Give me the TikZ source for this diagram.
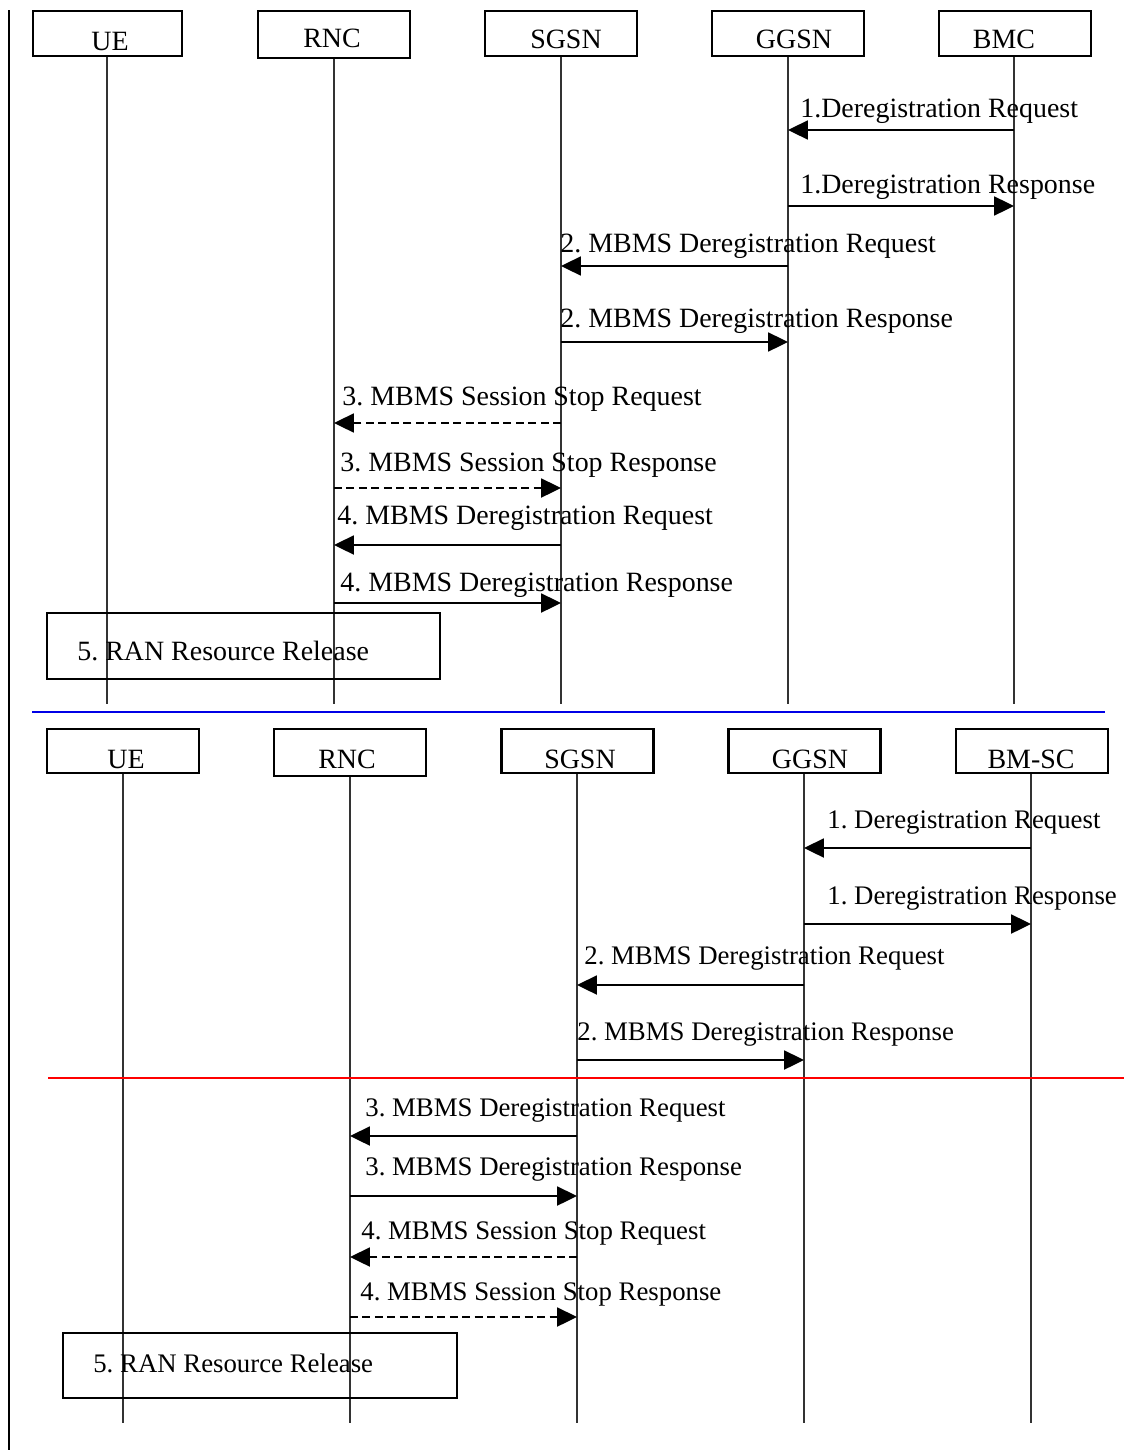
\documentclass[tikz,border=0pt]{standalone}
\usepackage{fontspec}
\setmainfont{Liberation Serif}
\usetikzlibrary{arrows.meta}
\frenchspacing
\def\px{0.02cm}
\tikzset{
  actor/.style={draw, line width=1.2pt, minimum width=152*\px, minimum height=45*\px, inner sep=0pt},
  lbl/.style={anchor=base, inner sep=0pt, font=\fontsize{15.9}{18}\selectfont},
  mlbl/.style={anchor=base west, inner sep=0pt, font=\fontsize{15.9}{18}\selectfont},
  mlblb/.style={anchor=base west, inner sep=0pt, font=\fontsize{15.25}{18}\selectfont},
  life/.style={line width=0.6pt, draw=black!80},
  msg/.style={line width=1.1pt, -{Triangle[length=11.3pt,width=10.8pt]}},
  dmsg/.style={msg, dash pattern=on 4.5pt off 2.6pt},
  ranbox/.style={draw, line width=1.2pt, inner sep=0pt},
}
\begin{document}
\begin{tikzpicture}[x=0.02cm, y=-0.02cm]
\useasboundingbox (0,0) rectangle (1124,1450);
% left frame line
\coordinate (fl1) at (9,10);
\coordinate (fl2) at (9,1450);
\draw[line width=1.2pt] (fl1) -- (fl2);

% ===== top section =====
\node[actor, minimum width=149*\px] (ue1) at (107.5,33.5) {};
\node[actor, minimum height=47*\px] (rnc1) at (334,34.5) {};
\node[actor] (sgsn1) at (561,33.5) {};
\node[actor] (ggsn1) at (788,33.5) {};
\node[actor] (bmc1) at (1015,33.5) {};
\node[lbl] (ue1t) at (110,51) {UE};
\node[lbl] (rnc1t) at (332,47) {RNC};
\node[lbl] (sgsn1t) at (566,48) {SGSN};
\node[lbl] (ggsn1t) at (794,49) {GGSN};
\node[lbl] (bmc1t) at (1004,49) {BMC};

\coordinate (ue1e) at (107,704);
\coordinate (rnc1e) at (334,704);
\coordinate (sgsn1e) at (561,704);
\coordinate (ggsn1e) at (788,704);
\coordinate (bmc1e) at (1014,704);
\draw[life] (ue1e |- ue1.south) -- (ue1e);
\draw[life] (rnc1e |- rnc1.south) -- (rnc1e);
\draw[life] (sgsn1e |- sgsn1.south) -- (sgsn1e);
\draw[life] (ggsn1e |- ggsn1.south) -- (ggsn1e);
\draw[life] (bmc1e |- bmc1.south) -- (bmc1e);

\node[mlbl] (t1) at (800,117) {1.Deregistration Request};
\draw[msg] (bmc1e |- 0,130) -- (ggsn1e |- 0,130);
\node[mlbl] (t2) at (800,193) {1.Deregistration Response};
\draw[msg] (ggsn1e |- 0,206) -- (bmc1e |- 0,206);
\node[mlbl] (t3) at (560,252) {2. MBMS Deregistration Request};
\draw[msg] (ggsn1e |- 0,266) -- (sgsn1e |- 0,266);
\node[mlbl] (t4) at (560,327) {2. MBMS Deregistration Response};
\draw[msg] (sgsn1e |- 0,342) -- (ggsn1e |- 0,342);
\node[mlbl] (t5) at (342,405) {3. MBMS Session Stop Request};
\draw[dmsg] (sgsn1e |- 0,423) -- (rnc1e |- 0,423);
\node[mlbl] (t6) at (340,471) {3. MBMS Session Stop Response};
\draw[dmsg] (rnc1e |- 0,488) -- (sgsn1e |- 0,488);
\node[mlbl] (t7) at (337,524) {4. MBMS Deregistration Request};
\draw[msg] (sgsn1e |- 0,545) -- (rnc1e |- 0,545);
\node[mlbl] (t8) at (340,591) {4. MBMS Deregistration Response};
\draw[msg] (rnc1e |- 0,603) -- (sgsn1e |- 0,603);

\coordinate (ran1a) at (47,613);
\coordinate (ran1b) at (440,679);
\draw[ranbox] (ran1a) rectangle (ran1b);
\node[mlbl] (ran1t) at (77,660) {5. RAN Resource Release};

% blue separator
\coordinate (bl1) at (32,712);
\coordinate (bl2) at (1105,712);
\draw[line width=1.1pt, draw={rgb,255:red,0;green,0;blue,230}] (bl1) -- (bl2);

% ===== bottom section =====
\node[actor, minimum height=44*\px] (ue2) at (123,751) {};
\node[actor, minimum height=47*\px] (rnc2) at (350,752.5) {};
\node[actor, minimum height=44*\px] (sgsn2) at (577.5,751) {};
\node[actor, minimum height=44*\px] (ggsn2) at (804.5,751) {};
\node[actor, minimum height=44*\px] (bmsc2) at (1032,751) {};
\node[lbl] (ue2t) at (126,768) {UE};
\node[lbl] (rnc2t) at (347,768) {RNC};
\node[lbl] (sgsn2t) at (580,768) {SGSN};
\node[lbl] (ggsn2t) at (810,768) {GGSN};
\node[lbl] (bmsc2t) at (1031,768) {BM-SC};

\coordinate (ue2e) at (123,1423);
\coordinate (rnc2e) at (350,1423);
\coordinate (sgsn2e) at (577,1423);
\coordinate (ggsn2e) at (804,1423);
\coordinate (bmsc2e) at (1031,1423);
\draw[life] (ue2e |- ue2.south) -- (ue2e);
\draw[life] (rnc2e |- rnc2.south) -- (rnc2e);
\draw[life] (sgsn2e |- sgsn2.south) -- (sgsn2e);
\draw[life] (ggsn2e |- ggsn2.south) -- (ggsn2e);
\draw[life] (bmsc2e |- bmsc2.south) -- (bmsc2e);

\node[mlblb] (u1) at (827,828) {1. Deregistration Request};
\draw[msg] (bmsc2e |- 0,848) -- (ggsn2e |- 0,848);
\node[mlblb] (u2) at (827,904) {1. Deregistration Response};
\draw[msg] (ggsn2e |- 0,924) -- (bmsc2e |- 0,924);
\node[mlblb] (u3) at (584,964) {2. MBMS Deregistration Request};
\draw[msg] (ggsn2e |- 0,985) -- (sgsn2e |- 0,985);
\node[mlblb] (u4) at (577,1040) {2. MBMS Deregistration Response};
\draw[msg] (sgsn2e |- 0,1060) -- (ggsn2e |- 0,1060);

% red separator
\coordinate (rl1) at (48,1078);
\coordinate (rl2) at (1124,1078);
\draw[line width=1.1pt, draw=red] (rl1) -- (rl2);

\node[mlblb] (u5) at (365,1116) {3. MBMS Deregistration Request};
\draw[msg] (sgsn2e |- 0,1136) -- (rnc2e |- 0,1136);
\node[mlblb] (u6) at (365,1175) {3. MBMS Deregistration Response};
\draw[msg] (rnc2e |- 0,1196) -- (sgsn2e |- 0,1196);
\node[mlblb] (u7) at (361,1239) {4. MBMS Session Stop Request};
\draw[dmsg] (sgsn2e |- 0,1257) -- (rnc2e |- 0,1257);
\node[mlblb] (u8) at (360,1300) {4. MBMS Session Stop Response};
\draw[dmsg] (rnc2e |- 0,1317) -- (sgsn2e |- 0,1317);

\coordinate (ran2a) at (63,1333);
\coordinate (ran2b) at (457,1398);
\draw[ranbox] (ran2a) rectangle (ran2b);
\node[mlblb] (ran2t) at (93,1372) {5. RAN Resource Release};
\end{tikzpicture}
\end{document}
